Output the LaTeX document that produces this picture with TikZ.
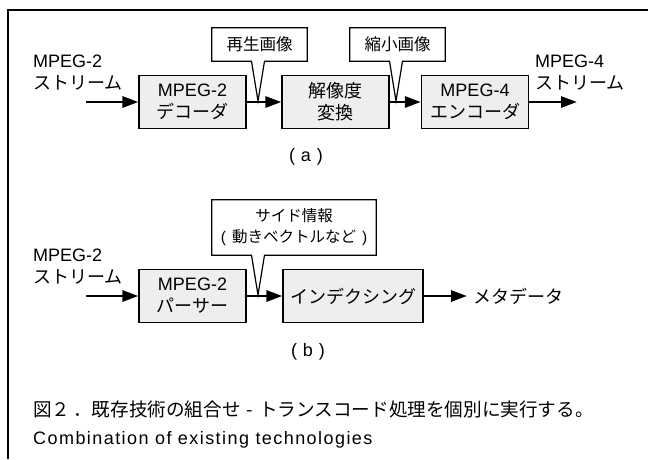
\documentclass[tikz,border=0pt]{standalone}
\usepackage{fontspec}
\setmainfont{Liberation Sans}
\newfontfamily\jp{Noto Sans CJK JP}
\newfontfamily\capfont[LetterSpace=8]{Liberation Sans}
\usetikzlibrary{arrows.meta,calc}
\definecolor{boxfill}{RGB}{238,238,238}
\newcommand\fsbig{\fontsize{18}{22}\selectfont}
\newcommand\fscap{\fontsize{18.6}{22}\selectfont}
\newcommand\fssmall{\fontsize{15.5}{21}\selectfont}
\newcommand\fsmid{\fontsize{16.5}{21}\selectfont}
\begin{document}
\begin{tikzpicture}[x=1pt,y=-1pt,
  box/.style={draw, line width=1.2pt, fill=boxfill, minimum width=107pt,
    minimum height=53pt, inner sep=0pt, align=center, font=\fsbig},
  lbl/.style={inner sep=0pt, align=left, font=\fsbig, anchor=west},
  cbox/.style={inner sep=0pt, align=center, font=\fssmall},
  coline/.style={draw, line width=1.2pt, line join=miter},
  arr/.style={line width=2.8pt, -{Triangle[length=16pt,width=11pt]}},
]
\useasboundingbox (0,0) rectangle (648,459);
% frame
\draw[line width=1.2pt] (8,459) -- (8,10) -- (648,10);

% ---------- (a) ----------
\node[lbl] (inA) at (33,73) {MPEG-2\\{\jp ストリーム}};
\node[box] (dec) at (192.5,102) {MPEG-2\\{\jp デコーダ}};
\node[box] (res) at (335.5,102) {{\jp 解像度}\\{\jp 変換}};
\node[box] (enc) at (475,102) {MPEG-4\\{\jp エンコーダ}};
\node[lbl] (outA) at (535,73) {MPEG-4\\{\jp ストリーム}};
\coordinate (srcA) at (86,102);
\coordinate (dstA) at (577,102);
\draw[arr] (srcA) -- (dec.west);
\draw[arr] (dec.east) -- (res.west);
\draw[arr] (res.east) -- (enc.west);
\draw[arr] (enc.east) -- (dstA);

\node[cbox, font=\fsmid, minimum width=95pt, minimum height=33pt] (cb1) at (259.5,44.5) {\jp 再生画像};
\coordinate (t1) at (258,101);
\path[coline] (cb1.north west) -- (cb1.north east) -- (cb1.south east)
  -- ($(t1|-cb1.south)+(6.5,0)$) -- (t1) -- ($(t1|-cb1.south)+(-6.5,0)$)
  -- (cb1.south west) -- cycle;

\node[cbox, font=\fsmid, minimum width=95pt, minimum height=33pt] (cb2) at (397.5,44.5) {\jp 縮小画像};
\coordinate (t2) at (396,101);
\path[coline] (cb2.north west) -- (cb2.north east) -- (cb2.south east)
  -- ($(t2|-cb2.south)+(6.5,0)$) -- (t2) -- ($(t2|-cb2.south)+(-6.5,0)$)
  -- (cb2.south west) -- cycle;

\node[font=\fsbig, inner sep=0pt] (capa) at (306,157) {(\hspace{6pt}a\hspace{6pt})};

% ---------- (b) ----------
\node[lbl] (inB) at (33,267) {MPEG-2\\{\jp ストリーム}};
\node[box] (par) at (192.5,296) {MPEG-2\\{\jp パーサー}};
\node[box, minimum width=140pt] (idx) at (353,296) {\jp インデクシング};
\coordinate (srcB) at (86,296);
\coordinate (dstB) at (467,296);
\draw[arr] (srcB) -- (par.west);
\draw[arr] (par.east) -- (idx.west);
\draw[arr] (idx.east) -- (dstB);
\node[lbl] (meta) at (473,296) {\jp メタデータ};

\node[cbox, minimum width=164pt, minimum height=55pt] (cb3) at (294,227.5)
  {{\jp サイド情報}\\(\hspace{6pt}{\jp 動きベクトルなど}\hspace{6pt})};
\coordinate (t3) at (258,295);
\path[coline] (cb3.north west) -- (cb3.north east) -- (cb3.south east)
  -- ($(t3|-cb3.south)+(6.5,0)$) -- (t3) -- ($(t3|-cb3.south)+(-6.5,0)$)
  -- (cb3.south west) -- cycle;

\node[font=\fsbig, inner sep=0pt] (capb) at (308,352) {(\hspace{6pt}b\hspace{6pt})};

% ---------- caption ----------
\node[lbl, font=\fscap] (cap1) at (33,409) {\jp 図２\hspace{3pt}．既存技術の組合せ\hspace{6pt}-\hspace{6pt}トランスコード処理を個別に実行する。};
\node[lbl, font=\fsbig\capfont] (cap2) at (33,440) {Combination of existing technologies};
\end{tikzpicture}
\end{document}
